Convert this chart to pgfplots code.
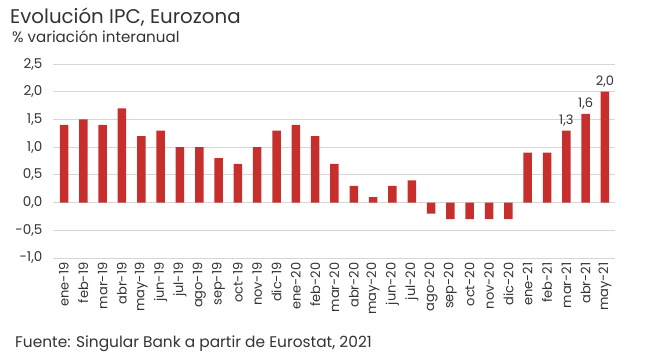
\documentclass[border=0pt]{standalone}
\usepackage{pgfplots}
\pgfplotsset{compat=1.18}
\usepackage{fontspec}
\setmainfont{Poppins}
\definecolor{barred}{HTML}{C62F2B}
\definecolor{txt}{HTML}{333333}
\definecolor{gridc}{HTML}{D6D6D6}
\begin{document}
\begin{tikzpicture}
\path[use as bounding box] (0pt,0pt) rectangle (650pt,-362pt);
\node[anchor=base west, text=txt, font=\fontsize{19.8}{22}\selectfont, inner sep=0pt] at (10pt,-23pt) {Evolución IPC, Eurozona};
\node[anchor=base west, text=txt, font=\fontsize{15.1}{17}\selectfont, inner sep=0pt] at (12pt,-42pt) {\% variación interanual};
\node[anchor=base west, text=txt, font=\fontsize{15.4}{17}\selectfont, inner sep=0pt] at (15pt,-347pt) {Fuente: Singular Bank a partir de Eurostat, 2021};
\begin{axis}[
  at={(53pt,-258pt)}, anchor=south west,
  scale only axis, width=562pt, height=194pt,
  ymin=-1, ymax=2.5, ytick={-1,-0.5,0,0.5,1,1.5,2,2.5},
  xmin=-0.57, xmax=28.52,
  axis line style={draw=none},
  major tick length=0pt,
  ymajorgrids, grid style={gridc, line width=1pt},
  xtick={0,...,28},
  xticklabels={ene-19,feb-19,mar-19,abr-19,may-19,jun-19,jul-19,ago-19,sep-19,oct-19,nov-19,dic-19,ene-20,feb-20,mar-20,abr-20,may-20,jun-20,jul-20,ago-20,sep-20,oct-20,nov-20,dic-20,ene-21,feb-21,mar-21,abr-21,may-21},
  xticklabel style={rotate=90, anchor=east, font=\fontsize{13}{14}\selectfont, text=txt, xshift=-1pt},
  yticklabel style={font=\fontsize{13.5}{14}\selectfont, text=txt, xshift=-7pt},
  /pgf/number format/assume math mode=true,
  /pgf/number format/use comma,
  /pgf/number format/fixed,
  /pgf/number format/fixed zerofill,
  /pgf/number format/precision=1,
  ybar, bar shift=0pt, bar width=8.5pt,
  clip=false,
]
\addplot[fill=barred, draw=none] coordinates {
(0,1.4) (1,1.5) (2,1.4) (3,1.7) (4,1.2) (5,1.3) (6,1.0) (7,1.0) (8,0.8) (9,0.7)
(10,1.0) (11,1.3) (12,1.4) (13,1.2) (14,0.7) (15,0.3) (16,0.1) (17,0.3) (18,0.4)
(19,-0.2) (20,-0.3) (21,-0.3) (22,-0.3) (23,-0.3) (24,0.9) (25,0.9) (26,1.3) (27,1.6) (28,2.0)};
\addplot[draw=none, fill=none, nodes near coords, point meta=explicit symbolic,
  every node near coord/.append style={font=\fontsize{13}{14}\selectfont, text=txt, yshift=1pt}]
 coordinates {(26,1.3) [1,3] (27,1.6) [1,6] (28,2.0) [2,0]};
\end{axis}
\end{tikzpicture}
\end{document}
